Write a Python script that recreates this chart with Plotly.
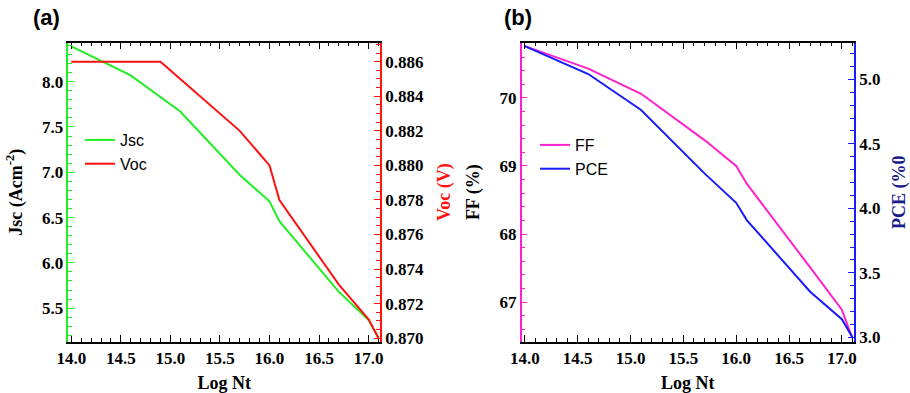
import plotly.graph_objects as go

# ---- data ----
log_nt = [14.0, 14.6, 15.1, 15.7, 16.0, 16.1, 16.7, 17.0, 17.1]
jsc = [8.39, 8.07, 7.67, 6.97, 6.68, 6.46, 5.68, 5.37, 5.17]
voc_x = [14.0, 14.6, 14.9, 15.1, 15.7, 16.0, 16.1, 16.7, 17.0, 17.1]
voc = [0.886, 0.886, 0.886, 0.885, 0.882, 0.880, 0.878, 0.8731, 0.8711, 0.870]
ff = [70.76, 70.43, 70.06, 69.38, 69.0, 68.74, 67.51, 66.89, 66.47]
pce = [5.258, 5.041, 4.762, 4.271, 4.043, 3.909, 3.353, 3.14, 3.0]

x_ticks = [14.0, 14.5, 15.0, 15.5, 16.0, 16.5, 17.0]
x_ticklabels = ["14.0", "14.5", "15.0", "15.5", "16.0", "16.5", "17.0"]

W, H = 910, 393
SERIF = "Liberation Serif, Times New Roman, serif"
SANS = "Liberation Sans, Arial, sans-serif"

GREEN = "#22ee22"
RED = "#ff1111"
MAGENTA = "#ff22cc"
BLUE = "#1a1aff"

fig = go.Figure()
fig.add_trace(go.Scatter(x=log_nt, y=jsc, mode="lines", name="Jsc",
                         line=dict(color=GREEN, width=2), xaxis="x", yaxis="y", legend="legend"))
fig.add_trace(go.Scatter(x=voc_x, y=voc, mode="lines", name="Voc",
                         line=dict(color=RED, width=2), xaxis="x", yaxis="y2", legend="legend"))
fig.add_trace(go.Scatter(x=log_nt, y=ff, mode="lines", name="FF",
                         line=dict(color=MAGENTA, width=2), xaxis="x2", yaxis="y3", legend="legend2"))
fig.add_trace(go.Scatter(x=log_nt, y=pce, mode="lines", name="PCE",
                         line=dict(color=BLUE, width=2), xaxis="x2", yaxis="y4", legend="legend2"))

def px_x(p):
    return p / W

def px_y(p):
    return 1 - p / H

def tickfont():
    return dict(family=SERIF, size=17, color="black", weight="bold")

def xaxis(domain, anchor):
    return dict(domain=domain, anchor=anchor, range=[13.97, 17.115], automargin=False,
                tickvals=x_ticks, ticktext=x_ticklabels, ticks="inside", ticklen=7,
                tickwidth=1.2, tickcolor="black", showline=True, linecolor="black",
                linewidth=1.5, mirror="ticks", showgrid=False, zeroline=False,
                tickfont=tickfont(),
                title=dict(text="Log Nt", font=dict(family=SERIF, size=18, color="black", weight="bold")),
                minor=dict(dtick=0.1, ticks="inside", ticklen=4, tickcolor="black",
                           tickwidth=1, showgrid=False))

def yaxis(domain, anchor, rng, dtick, minor, color, side, title, tcolor, overlaying=None, fmt=None):
    d = dict(domain=domain, anchor=anchor, range=rng, dtick=dtick, ticks="inside",
             ticklen=6, tickwidth=1.2, tickcolor=color, showline=True, linecolor=color,
             linewidth=1.5, showgrid=False, zeroline=False, side=side, tickfont=tickfont(),
             automargin=False,
             title=dict(text=title, font=dict(family=SERIF, size=18, color=tcolor, weight="bold")),
             minor=dict(dtick=minor, ticks="inside", ticklen=4, tickcolor=color,
                        tickwidth=1, showgrid=False))
    if overlaying:
        d["overlaying"] = overlaying
    if fmt:
        d["tickformat"] = fmt
    return d

ydom = [px_y(341.7), px_y(42.7)]
xa = [px_x(68.3), px_x(380)]
xb = [px_x(521.7), px_x(854)]

fig.update_layout(
    width=W, height=H,
    margin=dict(l=0, r=0, t=0, b=0),
    paper_bgcolor="white", plot_bgcolor="white",
    xaxis=xaxis(xa, "y"),
    xaxis2=xaxis(xb, "y3"),
    yaxis=yaxis(ydom, "x", [5.13, 8.43], 0.5, 0.1, GREEN, "left",
                "Jsc (Acm<sup>-2</sup>)", "black", fmt=".1f"),
    yaxis2=yaxis(ydom, "x", [0.8698, 0.8871], 0.002, 0.0005, RED, "right",
                 "Voc (V)", RED, overlaying="y", fmt=".3f"),
    yaxis3=yaxis(ydom, "x2", [66.42, 70.81], 1, 0.2, MAGENTA, "left",
                 "FF (%)", "black", fmt="d"),
    yaxis4=yaxis(ydom, "x2", [2.966, 5.284], 0.5, 0.1, BLUE, "right",
                 "PCE (%0", "#1a1a8c", overlaying="y3", fmt=".1f"),
    legend=dict(x=px_x(80), y=px_y(123), xanchor="left", yanchor="top",
                bgcolor="rgba(0,0,0,0)", font=dict(family=SANS, size=16, color="black"),
                tracegroupgap=0, itemwidth=30),
    legend2=dict(x=px_x(535), y=px_y(128), xanchor="left", yanchor="top",
                 bgcolor="rgba(0,0,0,0)", font=dict(family=SANS, size=16, color="black"),
                 tracegroupgap=0, itemwidth=30),
    annotations=[
        dict(text="(a)", x=px_x(31), y=px_y(18), xref="paper", yref="paper",
             xanchor="left", yanchor="middle", showarrow=False,
             font=dict(family=SANS, size=22, color="black", weight="bold")),
        dict(text="(b)", x=px_x(502), y=px_y(18), xref="paper", yref="paper",
             xanchor="left", yanchor="middle", showarrow=False,
             font=dict(family=SANS, size=22, color="black", weight="bold")),
    ],
)

fig.write_html("out.html", config={"displayModeBar": False},
               post_script="document.body.style.margin='0';document.body.style.padding='0';")
